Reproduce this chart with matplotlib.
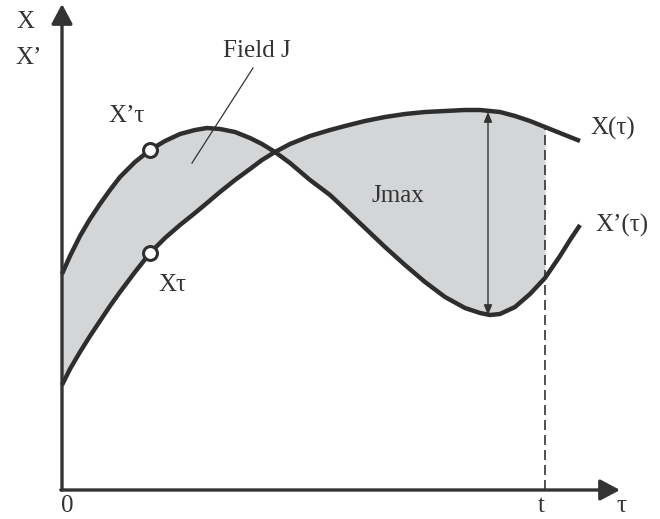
import matplotlib
matplotlib.use("Agg")
import matplotlib.pyplot as plt
import numpy as np

# diagram units: tau (horizontal), value (vertical)
tau = [0, 8, 18, 28, 38, 48, 58, 73, 88, 103, 118, 133, 145, 158, 173, 188, 200,
       213, 228, 248, 268, 283, 303, 323, 343, 363, 383, 403, 418, 428, 438, 453,
       468, 483, 498, 508, 518]
x_prime = [216, 234, 254, 271, 286, 300, 313, 328, 340, 349, 356, 360, 362, 361,
           358, 352, 346, 338, 327, 310, 295, 281, 262, 243, 225, 208, 193, 182,
           177, 175, 176, 183, 196, 212, 234, 250, 265]
x_val = [105, 121, 138, 154, 169, 184, 198, 218, 237, 252, 265, 277, 287, 298,
         310, 321, 330, 338, 346, 354, 360, 364, 369, 373, 376, 378, 379, 380,
         380, 379, 378, 374, 369, 363, 357, 353, 349]
t_end = 483
tau_mark = 88
tau_jmax = 426

tau = np.array(tau, float)
xp = np.array(x_prime, float)
xv = np.array(x_val, float)

fig = plt.figure(figsize=(6.6, 5.19), dpi=100)
ax = fig.add_axes([0, 0, 1, 1])
ax.set_xlim(-62, 598)
ax.set_ylim(-29, 490)
ax.axis('off')

line_c = '#2e2e2e'
fill_c = '#d4d5d7'
font = dict(family='Liberation Serif', size=18, color='#333333')

m = tau <= t_end
ax.fill_between(tau[m], xp[m], xv[m], color=fill_c, lw=0, zorder=1)
ax.plot(tau, xp, color=line_c, lw=3.2, solid_capstyle='butt',
        solid_joinstyle='round', zorder=3)
ax.plot(tau, xv, color=line_c, lw=3.2, solid_capstyle='butt',
        solid_joinstyle='round', zorder=3)

# axes arrows
ax.annotate('', xy=(0, 486), xytext=(0, 0),
            arrowprops=dict(arrowstyle='-|>,head_length=0.6,head_width=0.32',
                            mutation_scale=20, lw=2.4, color='#333333',
                            shrinkA=0, shrinkB=0), zorder=4)
ax.annotate('', xy=(558, 0), xytext=(-1.2, 0),
            arrowprops=dict(arrowstyle='-|>,head_length=0.6,head_width=0.32',
                            mutation_scale=20, lw=2.4, color='#333333',
                            shrinkA=0, shrinkB=0), zorder=4)

# dashed t line
i_t = list(tau).index(t_end)
ax.plot([t_end, t_end], [0, xv[i_t]], color='#333333', lw=1.2,
        linestyle=(0, (6, 3)), zorder=2)

# Jmax double arrow
ax.annotate('', xy=(tau_jmax, 378), xytext=(tau_jmax, 175),
            arrowprops=dict(arrowstyle='<|-|>,head_length=0.6,head_width=0.25',
                            mutation_scale=10, lw=1.0, color='#333333',
                            shrinkA=0, shrinkB=0), zorder=2)

# markers
k = list(tau).index(tau_mark)
ax.plot([tau_mark, tau_mark], [xp[k], xv[k]], 'o', ms=10, mfc='white',
        mec=line_c, mew=2.2, linestyle='none', zorder=5)

# leader line
ax.plot([191, 130], [422, 327], color='#333333', lw=0.9, zorder=4)

# texts
ax.text(-37, 468, 'X', ha='center', va='center', **font)
ax.text(-33, 432, 'X’', ha='center', va='center', **font)
ax.text(195, 439, 'Field J', ha='center', va='center', **font)
ax.text(65, 374, 'X’τ', ha='center', va='center', **font)
ax.text(110, 205, 'Xτ', ha='center', va='center', **font)
ax.text(336, 294, 'Jmax', ha='center', va='center', **font)
ax.text(551, 362, 'X(τ)', ha='center', va='center', **font)
ax.text(560, 265, 'X’(τ)', ha='center', va='center', **font)
ax.text(5, -16, '0', ha='center', va='center', **font)
ax.text(479, -16, 't', ha='center', va='center', **font)
ax.text(559, -16, 'τ', ha='center', va='center', **font)

fig.savefig('out.png', dpi=100)
